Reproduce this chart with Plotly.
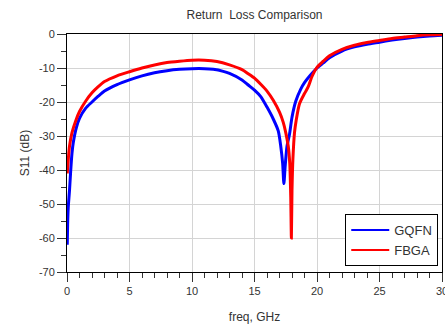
import plotly.graph_objects as go

# Return loss (S11) of two packages, frequency in GHz, magnitude in dB
freq_gqfn = [0.02, 0.05, 0.1, 0.2, 0.3, 0.4, 0.5, 0.75, 1.0, 1.5, 2.0, 2.5, 3.0, 4.0, 5.0,
             6.0, 7.0, 8.0, 9.0, 10.0, 11.0, 11.7, 12.5, 13.0, 14.0, 14.5, 15.0, 15.5,
             16.0, 16.5, 16.9, 17.1, 17.25, 17.35, 17.45, 17.6, 17.8, 18.0, 18.3, 18.7,
             19.0, 19.5, 20.0, 20.5, 21.0, 22.0, 23.0, 24.0, 25.0, 26.0, 27.0, 28.0,
             29.0, 30.0]
s11_gqfn = [-62, -56, -51, -46, -40, -35, -32, -27.5, -24.8, -21.8, -20, -18.3, -16.8, -14.9,
            -13.5, -12.3, -11.4, -10.8, -10.4, -10.2, -10.2, -10.4, -11, -11.6, -13.5,
            -15, -16.5, -18.4, -21.5, -25, -28.5, -33, -38, -44, -39, -33, -29.5, -24.5,
            -19.8, -16.2, -14.3, -12, -10, -8.5, -7, -5, -3.8, -3, -2.4, -1.8, -1.3, -0.9,
            -0.6, -0.4]

freq_fbga = [0.02, 0.1, 0.2, 0.4, 0.7, 1.0, 1.5, 2.0, 2.5, 3.0, 4.0, 5.0, 6.0, 7.0, 8.0,
             9.0, 10.0, 11.0, 12.0, 13.0, 14.0, 14.5, 15.0, 15.5, 16.0, 16.5, 17.0, 17.3,
             17.5, 17.7, 17.82, 17.9, 17.95, 18.0, 18.07, 18.2, 18.33, 18.6, 19.0, 19.3,
             19.6, 20.0, 20.5, 21.0, 22.0, 23.0, 24.0, 25.0, 26.0, 27.0, 28.0, 29.0, 30.0]
s11_fbga = [-41, -37, -33, -29, -25.5, -22.8, -19.7, -17.3, -15.5, -14, -12.3, -11.1, -10,
            -9.1, -8.4, -8, -7.7, -7.7, -8.1, -9.1, -10.5, -11.7, -13, -14.8, -16.8, -19.5,
            -23, -26, -29, -33, -38, -48, -60, -46, -37, -29, -25.5, -20.5, -17.5, -15.5,
            -12.5, -9.8, -8, -6.4, -4.5, -3.3, -2.5, -1.9, -1.3, -0.9, -0.5, -0.25, -0.15]

x_ticks = [0, 5, 10, 15, 20, 25, 30]
y_ticks = [0, -10, -20, -30, -40, -50, -60, -70]

FONT = "Liberation Sans, Arial, sans-serif"
BLUE = "#0000ff"
RED = "#ff0000"

fig = go.Figure()
fig.add_trace(go.Scatter(x=freq_gqfn, y=s11_gqfn, mode="lines", name="GQFN",
                         line=dict(color=BLUE, width=3, shape="spline", smoothing=0.7),
                         showlegend=False))
fig.add_trace(go.Scatter(x=freq_fbga, y=s11_fbga, mode="lines", name="FBGA",
                         line=dict(color=RED, width=3, shape="spline", smoothing=0.7),
                         showlegend=False))
# legend keys drawn with thinner strokes than the curves
fig.add_trace(go.Scatter(x=[None], y=[None], mode="lines", name="GQFN",
                         line=dict(color=BLUE, width=2)))
fig.add_trace(go.Scatter(x=[None], y=[None], mode="lines", name="FBGA",
                         line=dict(color=RED, width=2)))

axis_common = dict(
    showline=True, linecolor="black", linewidth=1, mirror=True,
    showgrid=True, gridcolor="#d4d4d4", gridwidth=1, zeroline=False,
    ticks="outside", ticklen=9, tickcolor="#333333", tickwidth=1,
    tickfont=dict(family=FONT, size=11, color="#333333"),
    ticklabeloverflow="allow", automargin=False,
)

fig.update_xaxes(range=[0, 30], tickvals=x_ticks, ticktext=[str(v) for v in x_ticks],
                 minor=dict(dtick=1, ticks="outside", ticklen=5, tickcolor="#333333",
                            showgrid=False),
                 title=dict(text="freq, GHz", font=dict(family=FONT, size=12, color="#333333"),
                            standoff=16),
                 **axis_common)
fig.update_yaxes(range=[-70, 0], tickvals=y_ticks, ticktext=[str(v) for v in y_ticks],
                 minor=dict(dtick=5, ticks="outside", ticklen=5, tickcolor="#333333",
                            showgrid=False),
                 title=dict(text="S11 (dB)", font=dict(family=FONT, size=12, color="#333333"),
                            standoff=6),
                 **axis_common)

fig.update_layout(
    width=445, height=324,
    margin=dict(l=67, r=3, t=34, b=52),
    paper_bgcolor="white", plot_bgcolor="white",
    title=dict(text="Return  Loss Comparison", x=0.5, xref="paper", y=0.955,
               yanchor="middle", font=dict(family=FONT, size=12, color="#333333")),
    legend=dict(x=0.99, xanchor="right", y=0.025, yanchor="bottom",
                bgcolor="white", bordercolor="black", borderwidth=1,
                font=dict(family=FONT, size=13, color="#333333"),
                itemwidth=38),
    showlegend=True,
)

fig.write_html("out.html")
